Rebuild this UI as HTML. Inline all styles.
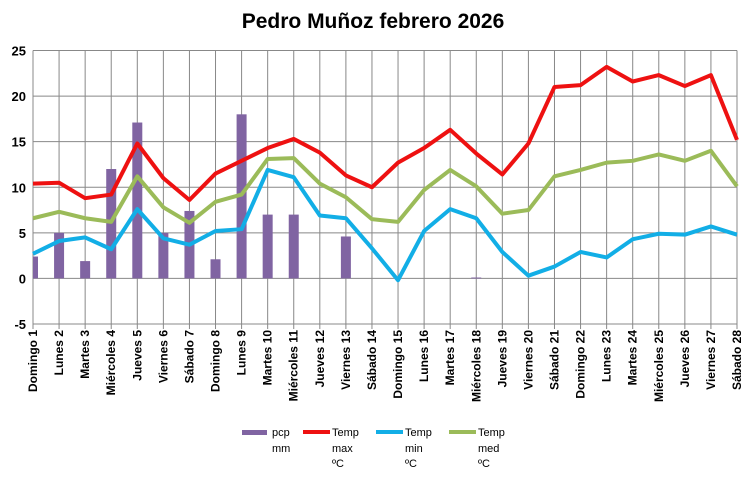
<!DOCTYPE html>
<html><head><meta charset="utf-8"><style>
body{margin:0;background:#fff;font-family:"Liberation Sans",sans-serif}
svg text{font-family:"Liberation Sans",sans-serif}
</style></head><body>
<svg id="c" width="748" height="475" xmlns="http://www.w3.org/2000/svg">
<text x="373" y="28" text-anchor="middle" font-size="21" font-weight="bold">Pedro Muñoz febrero 2026</text>
<g id="grid"></g><g id="bars"></g><g id="lines"></g><g id="labels"></g>
<g font-size="11">
<rect x="242" y="430" width="25" height="5" fill="#8064a2"/>
<text x="272" y="436">pcp</text><text x="272" y="452">mm</text>
<line x1="303" y1="432" x2="330" y2="432" stroke="#ee1111" stroke-width="4"/>
<text x="332" y="436">Temp</text><text x="332" y="452">max</text><text x="332" y="467">ºC</text>
<line x1="376" y1="432" x2="403" y2="432" stroke="#12aee6" stroke-width="4"/>
<text x="405" y="436">Temp</text><text x="405" y="452">min</text><text x="405" y="467">ºC</text>
<line x1="449" y1="432" x2="476" y2="432" stroke="#9bbb59" stroke-width="4"/>
<text x="478" y="436">Temp</text><text x="478" y="452">med</text><text x="478" y="467">ºC</text>
</g>
</svg>
<script>
const days=["Domingo 1","Lunes 2","Martes 3","Miércoles 4","Jueves 5","Viernes 6","Sábado 7","Domingo 8","Lunes 9","Martes 10","Miércoles 11","Jueves 12","Viernes 13","Sábado 14","Domingo 15","Lunes 16","Martes 17","Miércoles 18","Jueves 19","Viernes 20","Sábado 21","Domingo 22","Lunes 23","Martes 24","Miércoles 25","Jueves 26","Viernes 27","Sábado 28"];
const pcp=[2.4,5,1.9,12,17.1,5,7.4,2.1,18,7,7,0,4.6,0,0,0,0,0.1,0,0,0,0,0,0,0,0,0,0];
const tmax=[10.4,10.5,8.8,9.2,14.8,11.0,8.6,11.5,12.9,14.3,15.3,13.8,11.3,10.0,12.7,14.3,16.3,13.7,11.4,14.8,21.0,21.2,23.2,21.6,22.3,21.1,22.3,15.2];
const tmin=[2.7,4.1,4.5,3.2,7.6,4.4,3.7,5.2,5.4,11.9,11.1,6.9,6.6,3.3,-0.2,5.2,7.6,6.6,2.9,0.3,1.3,2.9,2.3,4.3,4.9,4.8,5.7,4.8];
const tmed=[6.6,7.3,6.6,6.2,11.2,7.8,6.1,8.4,9.2,13.1,13.2,10.4,8.9,6.5,6.2,9.7,11.9,10.1,7.1,7.5,11.2,11.9,12.7,12.9,13.6,12.9,14.0,10.1];
const yTicks=[-5,0,5,10,15,20,25];
const NS="http://www.w3.org/2000/svg";
const L=33,R=737,T=50.5,B=324;
const x=i=>L+i*(R-L)/(days.length-1);
const y=v=>B-(v+5)*(B-T)/30;
function mk(t,a,p){const e=document.createElementNS(NS,t);for(const k in a)e.setAttribute(k,a[k]);document.getElementById(p).appendChild(e);return e;}
yTicks.forEach(v=>{
 const g=mk('line',{x1:L,x2:R,y1:y(v),y2:y(v),stroke:'#888','stroke-width':1},'grid');
 
 
 const t=mk('text',{x:26,y:y(v)+5,'text-anchor':'end','font-size':13,'font-weight':'bold'},'labels');
 t.textContent=v;
 
 
});
days.forEach((d,i)=>{
 const g=mk('line',{x1:x(i),x2:x(i),y1:T,y2:B+5,stroke:'#888','stroke-width':1},'grid');
 
 
 const t=mk('text',{transform:`translate(${x(i)+4},330) rotate(-90)`,'text-anchor':'end','font-size':12,'font-weight':'bold'},'labels');
 t.textContent=d;
 
 
});
pcp.forEach((v,i)=>{
 if(v<=0)return;
 let x0=x(i)-5,w=10;if(x0<L){w-=L-x0;x0=L;}
 const r=mk('rect',{x:x0,y:y(v),width:w,height:Math.max(y(0)-y(v),1),fill:'#8064a2'},'bars');
 
 
});
[[tmed,'#9bbb59','line-temp-med'],[tmin,'#12aee6','line-temp-min'],[tmax,'#ee1111','line-temp-max']].forEach(([s,c,n])=>{
 const p=mk('polyline',{points:s.map((v,i)=>x(i)+','+y(v)).join(' '),fill:'none',stroke:c,'stroke-width':4,'stroke-linejoin':'round'},'lines');
 
 
});
</script>
</body></html>
